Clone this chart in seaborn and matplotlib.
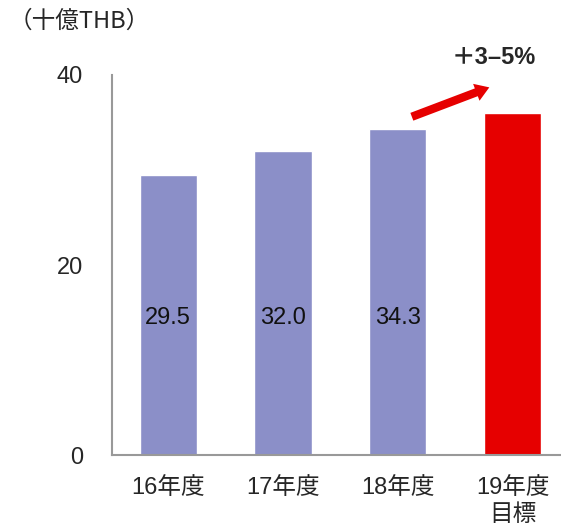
import pandas as pd
import matplotlib.pyplot as plt
import seaborn as sns

categories = ['16年度', '17年度', '18年度', '19年度\n目標']
values = [29.5, 32.0, 34.3, 36.0]
value_labels = ['29.5', '32.0', '34.3', '']
bar_colors = ['#8B8FC8', '#8B8FC8', '#8B8FC8', '#E60000']

sns.set_style('white')
plt.rcParams['font.family'] = ['Liberation Sans', 'Noto Sans CJK JP', 'DejaVu Sans']

df = pd.DataFrame({'cat': categories, 'val': values})

fig = plt.figure(figsize=(5.61, 5.28), dpi=100)
ax = fig.add_axes([0.1996, 0.138, 0.80, 0.72])

sns.barplot(data=df, x='cat', y='val', hue='cat', palette=bar_colors,
            width=0.5, saturation=1, legend=False, ax=ax)

ax.set_ylim(0, 40)
ax.set_xlim(-0.49, 3.42)
ax.set_yticks([0, 20, 40])
ax.set_xlabel('')
ax.set_ylabel('')

for s in ['top', 'right']:
    ax.spines[s].set_visible(False)
for s in ['left', 'bottom']:
    ax.spines[s].set_color('#999999')
    ax.spines[s].set_linewidth(1.5)

ax.tick_params(axis='y', direction='in', length=6, width=1.5, color='#999999',
               labelsize=17, pad=21)
ax.tick_params(axis='x', length=0, labelsize=17, pad=16)
for lbl in ax.get_xticklabels():
    lbl.set_linespacing(1.3)

for i, t in enumerate(value_labels):
    if t:
        ax.text(i, 14.4, t, ha='center', va='center', fontsize=17, color='#111111')

fig.text(0.015, 0.96, '（十億THB）', fontsize=17, ha='left', va='center',
         family=['Noto Sans CJK JP', 'Liberation Sans'])

ax.annotate('', xy=(2.82, 38.8), xytext=(2.10, 35.5),
            arrowprops=dict(arrowstyle='simple,head_length=1.0,head_width=1.3,tail_width=0.6',
                            color='#E60000', lw=0), annotation_clip=False)
ax.text(2.84, 41.8, '＋3–5%', fontsize=17, fontweight='bold', ha='center', va='center',
        clip_on=False)

fig.savefig('out.png', dpi=100)
plt.close(fig)
